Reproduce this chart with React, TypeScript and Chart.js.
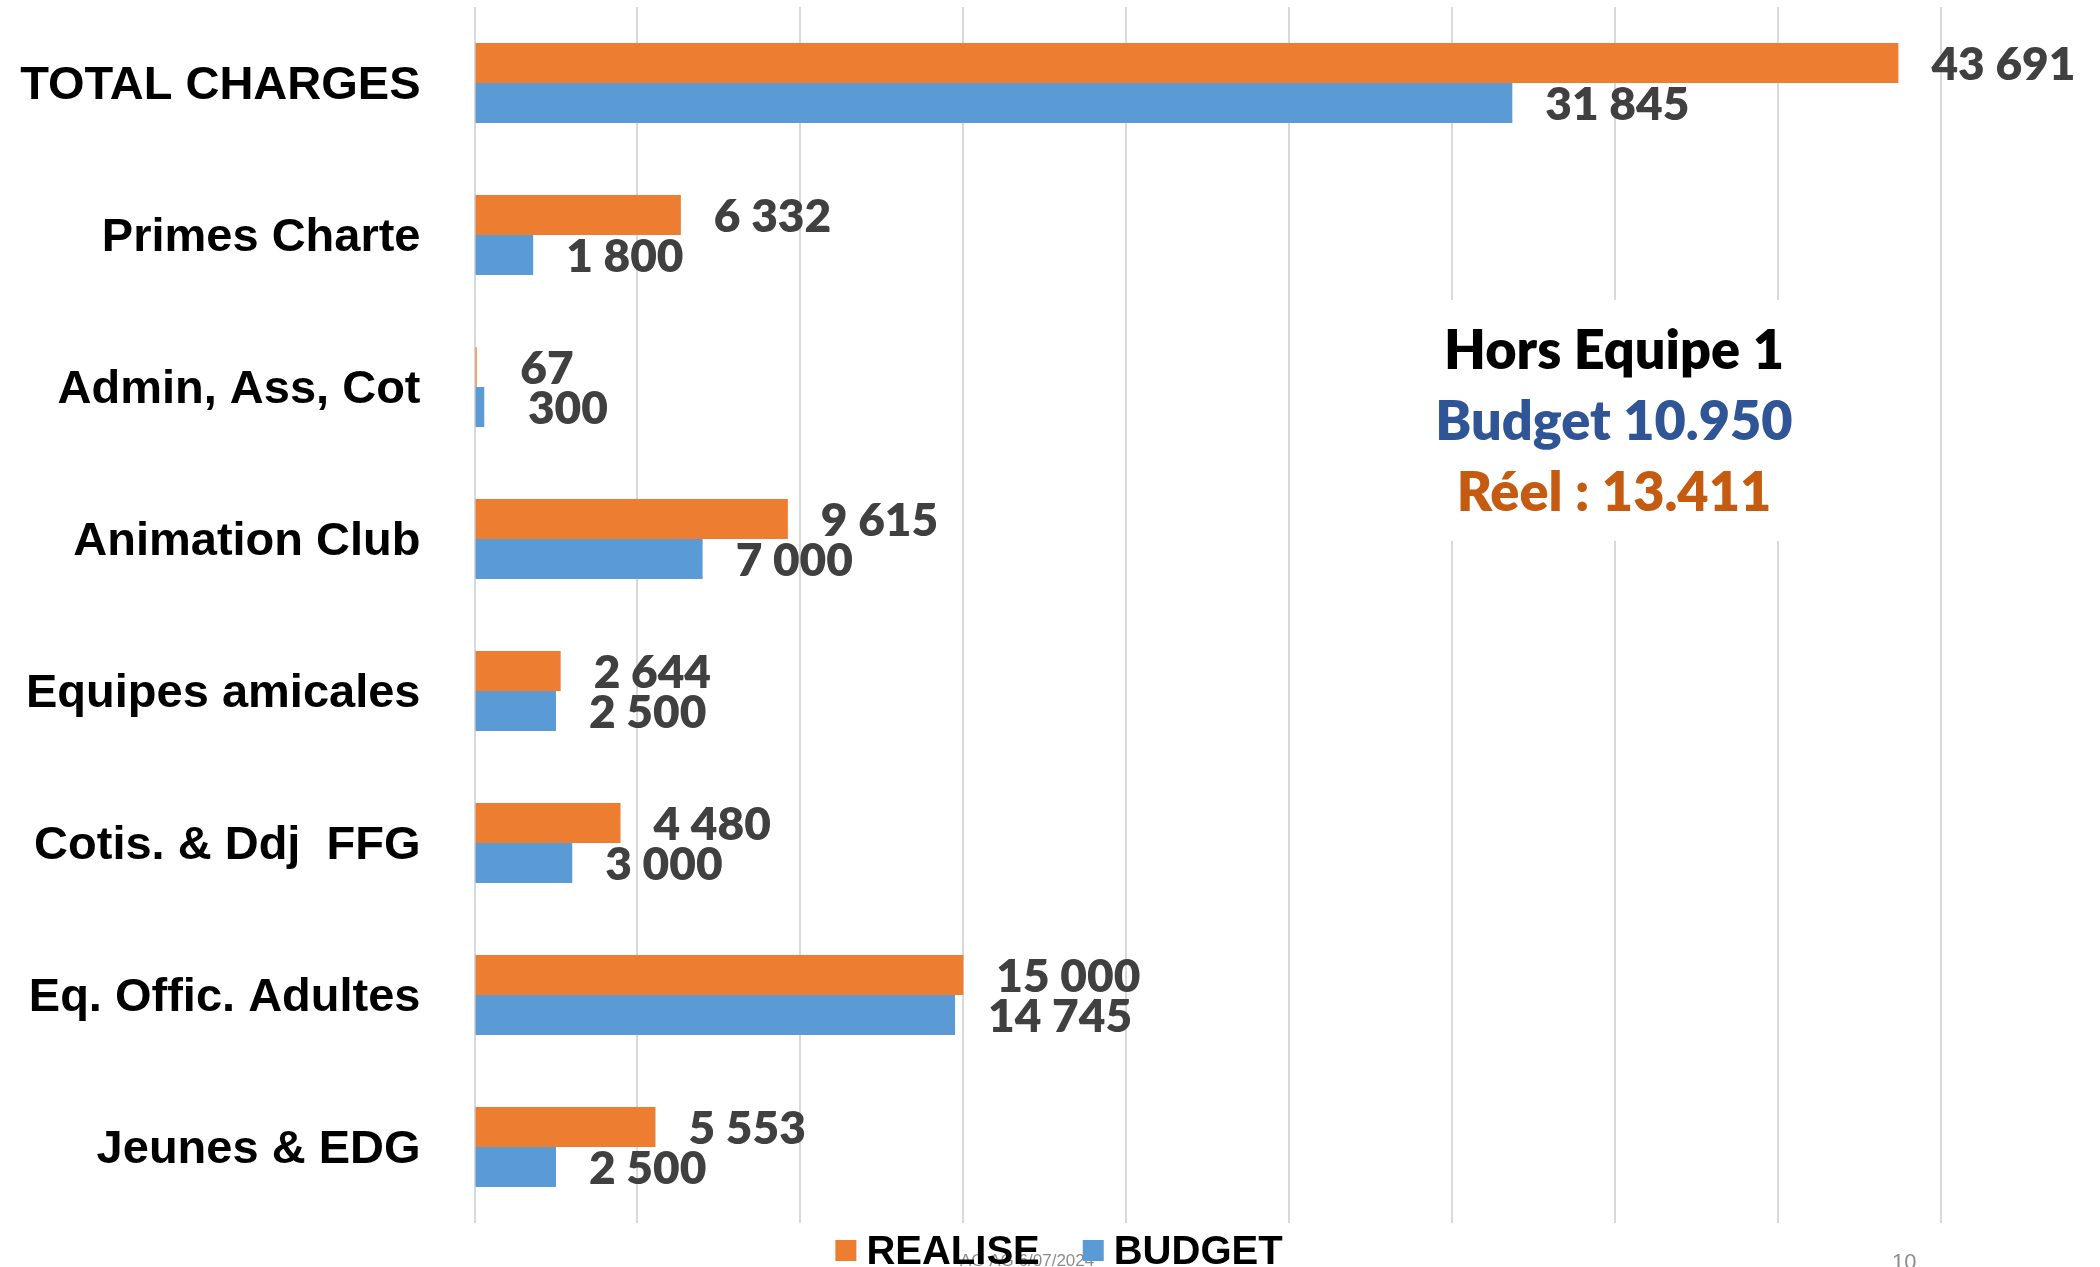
import React, { useEffect, useRef } from "react";
import { Chart, registerables } from "chart.js";

Chart.register(...registerables);

// ---- data ----
const categories = [
  "TOTAL CHARGES",
  "Primes Charte",
  "Admin, Ass, Cot",
  "Animation Club",
  "Equipes amicales",
  "Cotis. & Ddj  FFG",
  "Eq. Offic. Adultes",
  "Jeunes & EDG",
];
const realise = [43691, 6332, 67, 9615, 2644, 4480, 15000, 5553];
const budget = [31845, 1800, 300, 7000, 2500, 3000, 14745, 2500];
const seriesNames = ["REALISE", "BUDGET"];
const noteLines = ["Hors Equipe 1", "Budget 10.950", "Réel : 13.411"];
const footerText = "AG AG 6/07/2024";
const pageNumber = "10";
const xMax = 50000;
const xStep = 5000;

// ---- styles ----
const ORANGE = "#ED7D31";
const BLUE = "#5B9BD5";
const GRID = "#D9D9D9";
const ARIAL = "'Liberation Sans', Arial, sans-serif";
const CALIBRI = "Lato, 'Noto Sans', sans-serif";
const noteColors = ["#000000", "#2F5597", "#C55A11"];

function fmt(v: number): string {
  if (v < 1000) return " " + v;
  const th = Math.floor(v / 1000);
  const rest = String(v % 1000).padStart(3, "0");
  return th + " " + rest;
}

const valueLabels = {
  id: "valueLabels",
  afterDatasetsDraw(chart: any) {
    const ctx = chart.ctx;
    ctx.save();
    ctx.font = `800 46px ${CALIBRI}`;
    ctx.fillStyle = "#404040";
    ctx.textAlign = "left";
    ctx.textBaseline = "middle";
    chart.data.datasets.forEach((ds: any, di: number) => {
      const meta = chart.getDatasetMeta(di);
      meta.data.forEach((el: any, i: number) => {
        ctx.fillText(fmt(ds.data[i]), el.x + 33, el.y + 2);
      });
    });
    ctx.restore();
  },
};

const extras = {
  id: "extras",
  afterDraw(chart: any) {
    const ctx = chart.ctx;
    ctx.save();

    // annotation box
    ctx.fillStyle = "#FFFFFF";
    ctx.fillRect(1425, 300, 385, 241);
    ctx.font = `800 54px ${CALIBRI}`;
    ctx.textAlign = "center";
    ctx.textBaseline = "alphabetic";
    const baselines = [369, 440, 511];
    noteLines.forEach((t, i) => {
      ctx.fillStyle = noteColors[i];
      ctx.fillText(t, 1614, baselines[i]);
    });

    // footer (slide elements)
    ctx.textAlign = "left";
    ctx.fillStyle = "#8C8C8C";
    ctx.font = `17px ${ARIAL}`;
    ctx.fillText(footerText, 960, 1266);
    ctx.font = `22px ${ARIAL}`;
    ctx.fillText(pageNumber, 1892, 1269);

    // legend
    ctx.font = `bold 40px ${ARIAL}`;
    const box = 21;
    const gapText = 10;
    const gapItem = 43;
    const widths = chart.data.datasets.map((d: any) => ctx.measureText(d.label).width);
    const total =
      widths.reduce((a: number, w: number) => a + w + box + gapText, 0) + gapItem * (widths.length - 1);
    let x = 1059 - total / 2;
    chart.data.datasets.forEach((d: any, i: number) => {
      ctx.fillStyle = d.backgroundColor;
      ctx.fillRect(x, 1240, box, box);
      ctx.fillStyle = "#000000";
      ctx.fillText(d.label, x + box + gapText, 1264);
      x += box + gapText + widths[i] + gapItem;
    });

    ctx.restore();
  },
};

export default function App() {
  const ref = useRef<HTMLCanvasElement | null>(null);

  useEffect(() => {
    if (!ref.current) return;
    const chart = new Chart(ref.current, {
      type: "bar",
      data: {
        labels: categories,
        datasets: [
          {
            label: seriesNames[0],
            data: realise,
            backgroundColor: ORANGE,
            borderWidth: 0,
            barPercentage: 1,
            categoryPercentage: 0.526,
          },
          {
            label: seriesNames[1],
            data: budget,
            backgroundColor: BLUE,
            borderWidth: 0,
            barPercentage: 1,
            categoryPercentage: 0.526,
          },
        ],
      },
      options: {
        indexAxis: "y",
        responsive: false,
        animation: false,
        devicePixelRatio: 1,
        layout: { padding: { top: 7, left: 0, right: 0, bottom: 44 } },
        plugins: {
          legend: { display: false },
          tooltip: { enabled: false },
        },
        scales: {
          x: {
            min: 0,
            max: xMax,
            ticks: { display: false, stepSize: xStep },
            grid: { color: GRID, lineWidth: 2, drawTicks: false },
            border: { display: false },
          },
          y: {
            ticks: {
              color: "#000000",
              font: { family: ARIAL, size: 47, weight: "bold" },
              padding: 54,
              labelOffset: 3,
              autoSkip: false,
            },
            grid: { display: false, drawTicks: false },
            border: { display: false },
            afterFit(scale: any) {
              scale.width = 474.5;
              scale.paddingTop = 0;
              scale.paddingBottom = 0;
            },
          },
        },
      },
      plugins: [valueLabels, extras],
    } as any);
    return () => chart.destroy();
  }, []);

  return (
    <div
      style={{
        position: "absolute",
        left: 0,
        top: 0,
        width: 2100,
        height: 1267,
        overflow: "hidden",
        background: "#FFFFFF",
      }}
    >
      <canvas ref={ref} width={2104} height={1267} />
    </div>
  );
}
